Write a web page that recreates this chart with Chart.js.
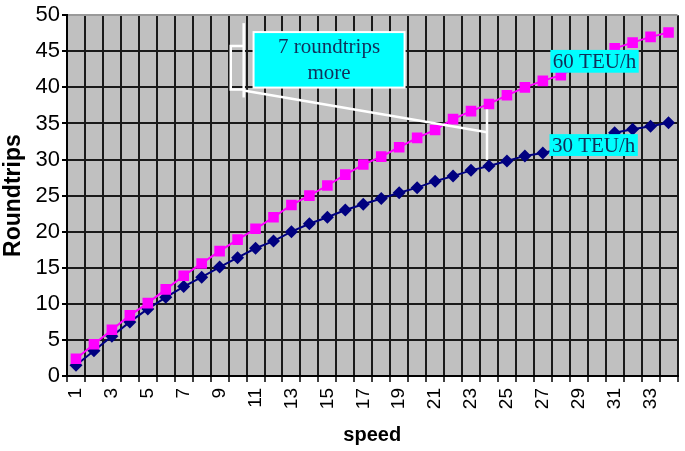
<!DOCTYPE html>
<html><head><meta charset="utf-8">
<script src="https://cdn.jsdelivr.net/npm/chart.js@4/dist/chart.umd.min.js"></script>
<style>html,body{margin:0;padding:0;background:#fff;}</style>
</head><body>
<canvas id="c" width="685" height="451"></canvas>
<script>
const speeds = ['1','2','3','4','5','6','7','8','9','10','11','12','13','14','15','16','17','18','19','20','21','22','23','24','25','26','27','28','29','30','31','32','33','34'];
const teu60 = [2.4,4.4,6.4,8.4,10.1,12.0,13.9,15.6,17.3,18.9,20.4,22.0,23.7,25.0,26.4,27.9,29.3,30.4,31.7,33.0,34.1,35.6,36.7,37.7,38.9,40.0,40.9,41.7,42.9,44.1,45.4,46.2,47.0,47.6];
const teu30 = [1.5,3.5,5.5,7.5,9.3,10.9,12.4,13.7,15.1,16.4,17.7,18.7,20.0,21.1,22.0,23.0,23.8,24.6,25.4,26.1,27.0,27.7,28.5,29.1,29.8,30.5,30.9,31.5,32.0,32.5,33.7,34.2,34.6,35.1];
const yTicks = [0,5,10,15,20,25,30,35,40,45,50];
const seriesNames = ['60 TEU/h','30 TEU/h'];
const calloutText = ['7 roundtrips','more'];

// annotation geometry in data units (x = category index, y = roundtrips)
const calloutLines = [
  [[9.34,48.9],[9.34,38.6]],
  [[9.34,45.74],[8.62,45.74],[8.62,39.70],[9.34,39.70]],
  [[9.34,39.56],[22.89,33.79]],
  [[22.89,36.95],[22.89,29.95]]
];
const boxes = [
  {x0:9.89,x1:18.30,y0:47.66,y1:39.97,lines:calloutText,border:true},
  {x0:26.42,x1:31.34,y0:45.19,y1:42.03,lines:[seriesNames[0]],border:false},
  {x0:26.37,x1:31.29,y0:33.52,y1:30.49,lines:[seriesNames[1]],border:false}
];

const bgPlugin = {
  id:'bg',
  beforeDraw(chart){
    const {ctx, chartArea:a} = chart;
    ctx.save();
    ctx.fillStyle = '#c0c0c0';
    ctx.fillRect(a.left, a.top, a.right-a.left, a.bottom-a.top);
    ctx.restore();
  }
};

const annPlugin = {
  id:'ann',
  afterDatasetsDraw(chart){
    const {ctx} = chart;
    const xs = chart.scales.x, ys = chart.scales.y;
    const px = v => xs.getPixelForValue(v);
    const py = v => ys.getPixelForValue(v);
    ctx.save();
    ctx.strokeStyle = '#ffffff';
    ctx.lineWidth = 2.5;
    calloutLines.forEach(pts => {
      ctx.beginPath();
      pts.forEach((p,i) => { const X = px(p[0]), Y = py(p[1]); i ? ctx.lineTo(X,Y) : ctx.moveTo(X,Y); });
      ctx.stroke();
    });
    boxes.forEach(b => {
      const x0 = px(b.x0), x1 = px(b.x1), y0 = py(b.y0), y1 = py(b.y1);
      ctx.fillStyle = '#00ffff';
      ctx.fillRect(x0, y0, x1-x0, y1-y0);
      if (b.border) { ctx.strokeStyle = '#ffffff'; ctx.lineWidth = 2; ctx.strokeRect(x0, y0, x1-x0, y1-y0); }
      ctx.fillStyle = '#10305a';
      ctx.font = '21px "Liberation Serif", "Times New Roman", serif';
      ctx.textAlign = 'center';
      ctx.textBaseline = 'middle';
      const lh = 26;
      const cx = (x0+x1)/2, cy = (y0+y1)/2;
      const n = b.lines.length;
      b.lines.forEach((t,i) => ctx.fillText(t, cx, cy + (i - (n-1)/2)*lh + 1));
    });
    ctx.restore();
  }
};

new Chart(document.getElementById('c'), {
  type:'line',
  data:{
    labels: speeds,
    datasets:[
      {label:seriesNames[0], data:teu60, borderColor:'#ff00ff', backgroundColor:'#ff00ff', borderWidth:2,
       pointStyle:'rect', pointRadius:7.5, pointBorderWidth:0, tension:0},
      {label:seriesNames[1], data:teu30, borderColor:'#000080', backgroundColor:'#000080', borderWidth:2,
       pointStyle:'rectRot', pointRadius:6.5, pointBorderWidth:0, tension:0}
    ]
  },
  options:{
    responsive:false,
    animation:false,
    layout:{padding:{top:12,right:3,left:0,bottom:0}},
    plugins:{legend:{display:false}, tooltip:{enabled:false}},
    scales:{
      x:{
        offset:true,
        grid:{offset:true, lineWidth:2, color:c => (c.index === speeds.length ? '#9a9a9a' : '#1a1a1a'), tickLength:6, tickColor:'#000', tickWidth:1.5},
        border:{color:'#000', width:2},
        ticks:{autoSkip:false, minRotation:90, maxRotation:90, padding:6, color:'#000',
          font:{family:'"Liberation Sans", Arial, sans-serif', size:19},
          callback:(v,i) => (i % 2 === 0 ? speeds[i] : '')},
        title:{display:true, text:'speed', color:'#000', font:{family:'"Liberation Sans", Arial, sans-serif', size:20, weight:'bold'}, padding:{top:2,bottom:4}},
        afterFit: s => { s.height = 75; s.paddingLeft = 0; s.paddingRight = 0; }
      },
      y:{
        min:0, max:50,
        afterBuildTicks: s => { s.ticks = yTicks.map(v => ({value:v})); },
        grid:{lineWidth:2, color:c => (c.tick && c.tick.value === 50 ? '#9a9a9a' : '#1a1a1a'), tickLength:5, tickColor:'#000'},
        border:{color:'#000', width:2},
        ticks:{padding:2, color:'#000', font:{family:'"Liberation Sans", Arial, sans-serif', size:22}},
        title:{display:true, text:'Roundtrips', color:'#000', font:{family:'"Liberation Sans", Arial, sans-serif', size:23, weight:'bold'}, padding:{top:0,bottom:1}},
        afterFit: s => { s.width = 67; }
      }
    }
  },
  plugins:[bgPlugin, annPlugin]
});
</script>
</body></html>
